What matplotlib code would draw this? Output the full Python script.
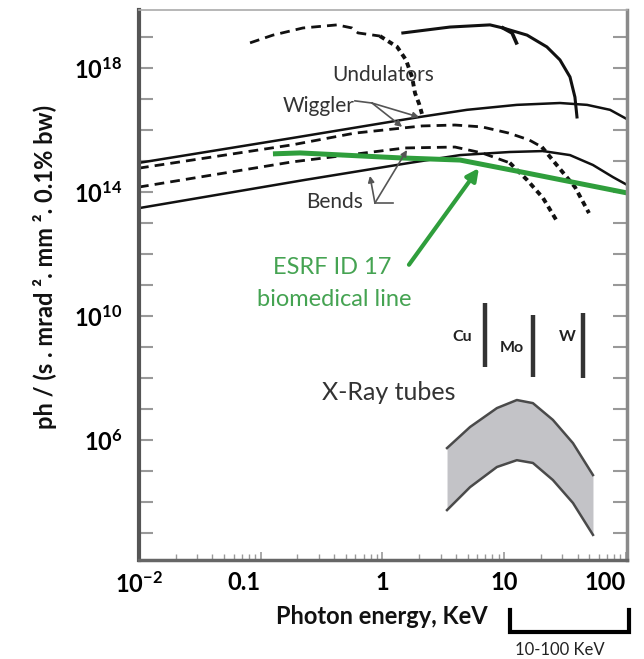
import matplotlib
matplotlib.use('Agg')
import matplotlib.pyplot as plt
from matplotlib.lines import Line2D
from matplotlib.ticker import FixedLocator, FixedFormatter, NullLocator
import numpy as np

plt.rcParams['font.family'] = ['Lato', 'DejaVu Sans']
plt.rcParams['mathtext.fontset'] = 'custom'
plt.rcParams['mathtext.rm'] = 'Lato'
plt.rcParams['mathtext.bf'] = 'Lato:bold'

# photon energy in keV, brilliance given as log10(ph / (s mrad2 mm2 0.1% bw))
wig_solid_e = [0.01, 0.181, 2.03, 4.94, 12.7, 28.7, 47.9, 74, 102]
wig_solid_logf = [14.94, 15.74, 16.42, 16.65, 16.81, 16.87, 16.81, 16.65, 16.35]

wig_dash_e = [0.01, 0.181, 0.594, 2.11, 3.94, 6.56, 10.9, 16.0, 20.4, 26.1, 38.1, 49.7]
wig_dash_logf = [14.77, 15.52, 15.90, 16.13, 16.16, 16.10, 15.90, 15.68, 15.45, 14.94, 14.16, 13.32]
wig_dash_split = 8

bend_dash_e = [0.01, 0.181, 1.53, 3.94, 6.56, 11.1, 15.4, 20.8, 27.1]
bend_dash_logf = [14.16, 14.97, 15.42, 15.45, 15.26, 14.94, 14.39, 13.81, 13.06]
bend_dash_split = 5

bend_solid_e = [0.01, 0.231, 1.68, 4.34, 11.1, 20.8, 34.7, 53.6, 78.2, 102]
bend_solid_logf = [13.48, 14.39, 14.94, 15.19, 15.29, 15.32, 15.19, 14.87, 14.48, 14.23]

und_dash_e = [0.0817, 0.126, 0.222, 0.423, 0.562, 0.63, 0.953, 1.32, 1.56, 1.75, 1.85, 2.0, 2.11]
und_dash_logf = [18.81, 19.06, 19.29, 19.39, 19.29, 19.13, 19.03, 18.68, 18.26, 17.71, 17.19, 16.84, 16.52]
und_dash_split = 6

und_solid_e = [1.47, 3.58, 7.64, 9.77, 15.4, 22.4, 28.7, 34.7, 38.1, 39.6]
und_solid_logf = [19.13, 19.32, 19.39, 19.29, 19.06, 18.68, 18.26, 17.71, 17.06, 16.42]
und_hook_e = [9.77, 11.6, 12.6]
und_hook_logf = [19.29, 19.13, 18.81]

esrf_e = [0.126, 0.21, 1.39, 4.34, 15.4, 39.6, 102]
esrf_logf = [15.23, 15.26, 15.10, 15.03, 14.61, 14.29, 13.97]

tube_e = [3.39, 5.24, 8.71, 12.7, 17.2, 25.1, 36.7, 53.6]
tube_hi_logf = [5.74, 6.42, 7.03, 7.29, 7.19, 6.65, 5.90, 4.87]
tube_lo_logf = [3.74, 4.48, 5.13, 5.35, 5.26, 4.71, 3.97, 2.94]

anode_names = ['Cu', 'Mo', 'W']
anode_e = [6.95, 17.2, 44.4]
anode_lo_logf = [8.35, 8.03, 8.0]
anode_hi_logf = [10.42, 10.03, 10.10]

x_ticks = [0.01, 0.1, 1, 10, 100]
x_labels = [r'$\mathbf{10^{-2}}$', '0.1', '1', '10', '100']
y_tick_exp = list(range(3, 20))
y_label_exp = [6, 10, 14, 18]


def flux(logs):
    return 10.0 ** np.asarray(logs)


fig = plt.figure(figsize=(6.44, 6.59), dpi=100)
ax = fig.add_axes([139 / 644, 1 - 560 / 659, 488 / 644, 550 / 659])
ax.set_xscale('log')
ax.set_yscale('log')
ax.set_xlim(0.01, 102)
ax.set_ylim(10 ** 2.13, 10 ** 19.87)

black = '#111111'
flat_dash = (3.5, 2.2)
steep_dash = (1.4, 1.1)

ax.plot(wig_solid_e, flux(wig_solid_logf), color=black, lw=1.8)
ax.plot(bend_solid_e, flux(bend_solid_logf), color=black, lw=1.8)
ax.plot(und_solid_e, flux(und_solid_logf), color=black, lw=2.2)
ax.plot(und_hook_e, flux(und_hook_logf), color=black, lw=2.6)

for e, lf, k in [(wig_dash_e, wig_dash_logf, wig_dash_split),
                 (bend_dash_e, bend_dash_logf, bend_dash_split),
                 (und_dash_e, und_dash_logf, und_dash_split)]:
    ax.plot(e[:k + 1], flux(lf[:k + 1]), color=black, lw=2.0, dashes=flat_dash)
    ax.plot(e[k:], flux(lf[k:]), color=black, lw=2.8, dashes=steep_dash)

green = '#2f9e3c'
ax.plot(esrf_e, flux(esrf_logf), color=green, lw=3.6, solid_capstyle='butt')

# x-ray tube band
ax.fill_between(tube_e, flux(tube_lo_logf), flux(tube_hi_logf), color='#c3c3c7', lw=0)
ax.plot(tube_e, flux(tube_hi_logf), color='#4a4a4a', lw=1.8)
ax.plot(tube_e, flux(tube_lo_logf), color='#4a4a4a', lw=1.8)

# anode lines
for name, e, lo, hi in zip(anode_names, anode_e, anode_lo_logf, anode_hi_logf):
    ax.plot([e, e], [10 ** lo, 10 ** hi], color='#333333', lw=3.2, solid_capstyle='butt')
ax.text(4.5, 2.1e9, 'Cu', fontsize=11.5, fontweight='bold', color='#222', ha='center', va='center')
ax.text(11.6, 9.3e8, 'Mo', fontsize=11.5, fontweight='bold', color='#222', ha='center', va='center')
ax.text(32.7, 2.1e9, 'W', fontsize=11.5, fontweight='bold', color='#222', ha='center', va='center')

txt = '#333333'
ax.text(1.01, 5.9e17, 'Undulators', fontsize=15, color=txt, ha='center', va='center')
ax.text(0.594, 6.0e16, 'Wiggler', fontsize=15, color=txt, ha='right', va='center')
ax.text(0.407, 4.8e13, 'Bends', fontsize=15, color=txt, ha='center', va='center')
ax.text(1.13, 3.3e7, 'X-Ray tubes', fontsize=18, color=txt, ha='center', va='center')
ax.text(0.385, 3.8e11, 'ESRF ID 17', fontsize=17, color='#45a352', ha='center', va='center')
ax.text(0.40, 3.3e10, 'biomedical line', fontsize=17, color='#45a352', ha='center', va='center')

# leader lines
lead = '#555555'
arrow = dict(arrowstyle='-|>', color=lead, lw=1.2, mutation_scale=9, shrinkA=0, shrinkB=0)
ax.plot([0.594, 0.82], [8.7e16, 7.4e16], color=lead, lw=1.2)
ax.annotate('', xy=(2.0, 2.6e16), xytext=(0.82, 7.4e16), arrowprops=arrow)
ax.annotate('', xy=(1.45, 1.26e16), xytext=(0.82, 7.4e16), arrowprops=arrow)
ax.plot([0.867, 1.22], [4.4e13, 4.4e13], color=lead, lw=1.2)
ax.annotate('', xy=(0.789, 3.3e14), xytext=(0.867, 4.4e13), arrowprops=arrow)
ax.annotate('', xy=(1.59, 2.26e15), xytext=(0.867, 4.4e13), arrowprops=arrow)
ax.annotate('', xy=(6.2, 5.9e14), xytext=(1.65, 4.5e11),
            arrowprops=dict(arrowstyle='-|>', color=green, lw=3, mutation_scale=18,
                            shrinkA=0, shrinkB=0))

# axes styling
ax.xaxis.set_major_locator(FixedLocator(x_ticks))
ax.xaxis.set_major_formatter(FixedFormatter(x_labels))
minors = [m * d for d in [0.01, 0.1, 1, 10] for m in range(2, 10)]
ax.xaxis.set_minor_locator(FixedLocator(minors))
ax.yaxis.set_major_locator(FixedLocator([10.0 ** p for p in y_tick_exp]))
ax.yaxis.set_major_formatter(FixedFormatter(
    [r'$\mathbf{10^{%d}}$' % p if p in y_label_exp else '' for p in y_tick_exp]))
ax.yaxis.set_minor_locator(NullLocator())

ax.tick_params(axis='x', which='major', direction='in', length=6, width=1.2, color='#999',
               labelsize=17, pad=8)
ax.tick_params(axis='x', which='minor', direction='in', length=4, width=1.0, color='#999')
ax.tick_params(axis='y', which='major', direction='in', length=10, width=1.5, color='#999',
               labelsize=17, pad=12, right=True)
fig.canvas.draw()
xlabs = ax.get_xticklabels()
for lab in xlabs:
    lab.set_fontweight('bold')
xlabs[-1].set_horizontalalignment('right')
xlabs[1].set_horizontalalignment('right')
ax.set_xticklabels(xlabs)

ax.spines['left'].set_color('#555555')
ax.spines['left'].set_linewidth(3)
ax.spines['bottom'].set_color('#666666')
ax.spines['bottom'].set_linewidth(2.5)
ax.spines['right'].set_color('#8a8a8a')
ax.spines['right'].set_linewidth(2.5)
ax.spines['top'].set_color('#aaaaaa')
ax.spines['top'].set_linewidth(1.2)

fig.text(45 / 644, 1 - 267 / 659, 'ph / (s . mrad ². mm ². 0.1% bw)', rotation=90,
         fontsize=17, fontweight='bold', ha='center', va='center', color='#111')
fig.text(382 / 644, 1 - 617 / 659, 'Photon energy, KeV', fontsize=17, fontweight='bold',
         ha='center', va='center', color='#111')

# 10-100 keV bracket below the axis
bx = [510 / 644, 510 / 644, 629 / 644, 629 / 644]
by = [1 - 610 / 659, 1 - 632 / 659, 1 - 632 / 659, 1 - 610 / 659]
fig.add_artist(Line2D(bx, by, color='black', lw=3, solid_joinstyle='miter'))
fig.text(560 / 644, 1 - 650 / 659, '10-100 KeV', fontsize=12, ha='center', va='center', color='#222')

fig.savefig('out.png', dpi=100)
